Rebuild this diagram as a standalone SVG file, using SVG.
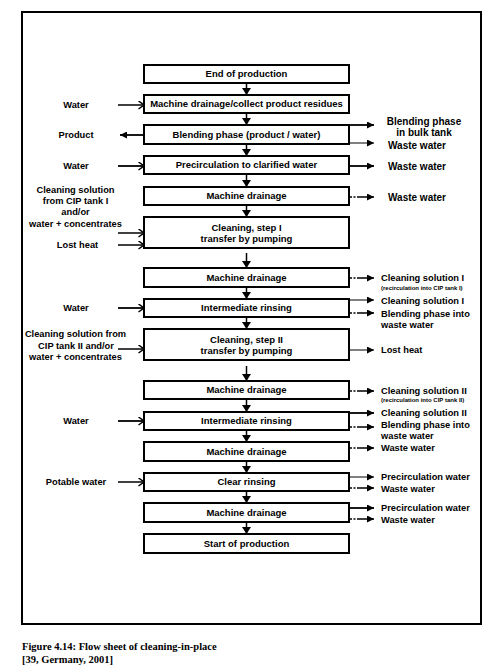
<svg xmlns="http://www.w3.org/2000/svg" width="501" height="670" viewBox="0 0 501 670">
<style>
text{font-family:"Liberation Sans",Arial,sans-serif;font-weight:bold;fill:#000}
.b{font-size:9.5px;text-anchor:middle}
.l{font-size:9.3px;text-anchor:middle}
.r{font-size:9.3px}
.r10{font-size:10px}
.s{font-size:6px}
.cap{font-family:"Liberation Serif","Times New Roman",serif;font-size:10.5px}
.box{fill:#fff;stroke:#000;stroke-width:2}
.dn{stroke:#000;stroke-width:1.5;marker-end:url(#tri)}
.in{stroke:#000;stroke-width:1.5;marker-end:url(#open)}
.out{stroke:#000;stroke-width:1.3;marker-end:url(#ra)}
.thin{stroke-width:1}
.thick{stroke-width:1.8}
.dash{stroke-dasharray:2,1.5,2,1.5,40}
</style>
<defs>
<marker id="tri" viewBox="0 0 7 9" refX="7" refY="4.5" markerWidth="7" markerHeight="9" markerUnits="userSpaceOnUse" orient="auto"><path d="M0,0 L7,4.5 L0,9 Z" fill="#000"/></marker>
<marker id="ra" viewBox="0 0 7 7" refX="7" refY="3.5" markerWidth="7" markerHeight="7" markerUnits="userSpaceOnUse" orient="auto"><path d="M0,0 L7,3.5 L0,7 Z" fill="#000"/></marker>
<marker id="open" viewBox="0 0 7 9" refX="6.5" refY="4.5" markerWidth="7" markerHeight="9" markerUnits="userSpaceOnUse" orient="auto"><path d="M1,0.5 L6.5,4.5 L1,8.5" fill="none" stroke="#000" stroke-width="1.5"/></marker>
</defs>
<rect id="frame" x="22" y="12" width="459" height="612" fill="none" stroke="#000" stroke-width="2"/>

<g id="connectors">
<line class="dn" x1="246.5" y1="84" x2="246.5" y2="95"/>
<line class="dn" x1="246.5" y1="114" x2="246.5" y2="125"/>
<line class="dn" x1="246.5" y1="145" x2="246.5" y2="156"/>
<line class="dn" x1="246.5" y1="175" x2="246.5" y2="187"/>
<line class="dn" x1="246.5" y1="206" x2="246.5" y2="217"/>
<line class="dn" x1="246.5" y1="253" x2="246.5" y2="268"/>
<line class="dn" x1="246.5" y1="288" x2="246.5" y2="299"/>
<line class="dn" x1="246.5" y1="318" x2="246.5" y2="329"/>
<line class="dn" x1="246.5" y1="366" x2="246.5" y2="381"/>
<line class="dn" x1="246.5" y1="400" x2="246.5" y2="412"/>
<line class="dn" x1="246.5" y1="431" x2="246.5" y2="442"/>
<line class="dn" x1="246.5" y1="462" x2="246.5" y2="473"/>
<line class="dn" x1="246.5" y1="492" x2="246.5" y2="503"/>
<line class="dn" x1="246.5" y1="523" x2="246.5" y2="534"/>

<line class="in" x1="118" y1="105" x2="144" y2="105"/>
<line class="out thick" x1="144" y1="135" x2="120" y2="135"/>
<line class="in thick" x1="118" y1="166" x2="144" y2="166"/>
<line class="in" x1="118" y1="233" x2="144" y2="233"/>
<line class="in" x1="118" y1="245" x2="144" y2="245"/>
<line class="in thick" x1="118" y1="308" x2="144" y2="308"/>
<line class="in" x1="118" y1="349" x2="144" y2="349"/>
<line class="in thick" x1="118" y1="421" x2="144" y2="421"/>
<line class="in" x1="118" y1="482" x2="144" y2="482"/>

<line class="out thick" x1="350" y1="125" x2="374" y2="125"/>
<line class="out thin" x1="350" y1="143" x2="374" y2="143"/>
<line class="out thick" x1="350" y1="166" x2="374" y2="166"/>
<line class="out dash" x1="350" y1="197" x2="374" y2="197"/>
<line class="out dash" x1="350" y1="278" x2="374" y2="278"/>
<line class="out thin" x1="350" y1="300" x2="374" y2="300"/>
<line class="out dash" x1="350" y1="313" x2="374" y2="313"/>
<line class="out thin" x1="350" y1="350" x2="374" y2="350"/>
<line class="out dash" x1="350" y1="391" x2="374" y2="391"/>
<line class="out thick" x1="350" y1="413" x2="374" y2="413"/>
<line class="out dash" x1="350" y1="427" x2="374" y2="427"/>
<line class="out dash" x1="350" y1="448" x2="374" y2="448"/>
<line class="out thin" x1="350" y1="477" x2="374" y2="477"/>
<line class="out dash" x1="350" y1="488" x2="374" y2="488"/>
<line class="out thick" x1="350" y1="508" x2="374" y2="508"/>
<line class="out dash" x1="350" y1="519" x2="374" y2="519"/>
</g>

<g id="n1"><rect class="box" x="144" y="65" width="205" height="18"/><text class="b" x="246.5" y="77.3">End of production</text></g>
<g id="n2"><rect class="box" x="144" y="95" width="205" height="18"/><text class="b" x="246.5" y="107.3">Machine drainage/collect product residues</text></g>
<g id="n3"><rect class="box" x="144" y="125" width="205" height="19"/><text class="b" x="246.5" y="137.8">Blending phase (product / water)</text></g>
<g id="n4"><rect class="box" x="144" y="156" width="205" height="18"/><text class="b" x="246.5" y="168.3">Precirculation to clarified water</text></g>
<g id="n5"><rect class="box" x="144" y="187" width="205" height="18"/><text class="b" x="246.5" y="199.3">Machine drainage</text></g>
<g id="n6"><rect class="box" x="144" y="217" width="205" height="31"/><text class="b" x="246.5" y="231.3">Cleaning, step I</text><text class="b" x="246.5" y="242.3">transfer by pumping</text></g>
<g id="n7"><rect class="box" x="144" y="268" width="205" height="19"/><text class="b" x="246.5" y="280.8">Machine drainage</text></g>
<g id="n8"><rect class="box" x="144" y="299" width="205" height="18"/><text class="b" x="246.5" y="311.3">Intermediate rinsing</text></g>
<g id="n9"><rect class="box" x="144" y="329" width="205" height="31"/><text class="b" x="246.5" y="343.3">Cleaning, step II</text><text class="b" x="246.5" y="354.3">transfer by pumping</text></g>
<g id="n10"><rect class="box" x="144" y="381" width="205" height="18"/><text class="b" x="246.5" y="393.3">Machine drainage</text></g>
<g id="n11"><rect class="box" x="144" y="412" width="205" height="18"/><text class="b" x="246.5" y="424.3">Intermediate rinsing</text></g>
<g id="n12"><rect class="box" x="144" y="442" width="205" height="19"/><text class="b" x="246.5" y="454.8">Machine drainage</text></g>
<g id="n13"><rect class="box" x="144" y="473" width="205" height="18"/><text class="b" x="246.5" y="485.3">Clear rinsing</text></g>
<g id="n14"><rect class="box" x="144" y="503" width="205" height="19"/><text class="b" x="246.5" y="515.8">Machine drainage</text></g>
<g id="n15"><rect class="box" x="144" y="534" width="205" height="19"/><text class="b" x="246.5" y="546.8">Start of production</text></g>

<g id="inputs">
<text class="l" x="76" y="108.3">Water</text>
<text class="l" x="76" y="138.3">Product</text>
<text class="l" x="76" y="169.3">Water</text>
<text class="l" x="75.5" y="193.3">Cleaning solution</text>
<text class="l" x="75.5" y="203.8">from CIP tank I</text>
<text class="l" x="75.5" y="215.3">and/or</text>
<text class="l" x="75.5" y="227.3">water + concentrates</text>
<text class="l" x="77.5" y="248.3">Lost heat</text>
<text class="l" x="76" y="311.3">Water</text>
<text class="l" x="75.5" y="337.3">Cleaning solution from</text>
<text class="l" x="76" y="349.3">CIP tank II and/or</text>
<text class="l" x="75.5" y="360.3">water + concentrates</text>
<text class="l" x="76" y="424.3">Water</text>
<text class="l" x="76" y="485.3">Potable water</text>
</g>

<g id="outputs">
<text class="r10" x="424" y="124.5" text-anchor="middle">Blending phase</text>
<text class="r10" x="424" y="135.5" text-anchor="middle">in bulk tank</text>
<text class="r10" x="388" y="148.5">Waste water</text>
<text class="r10" x="388" y="169.5">Waste water</text>
<text class="r10" x="388" y="200.5">Waste water</text>
<text class="r" x="381" y="281.3">Cleaning solution I</text>
<text class="s" x="381" y="290">(recirculation into CIP tank I)</text>
<text class="r" x="381" y="304.3">Cleaning solution I</text>
<text class="r" x="381" y="317.3">Blending phase into</text>
<text class="r" x="381" y="328.3">waste water</text>
<text class="r" x="381" y="353.3">Lost heat</text>
<text class="r" x="381" y="394.3">Cleaning solution II</text>
<text class="s" x="381" y="402">(recirculation into CIP tank II)</text>
<text class="r" x="381" y="416.3">Cleaning solution II</text>
<text class="r" x="381" y="428.3">Blending phase into</text>
<text class="r" x="381" y="439.3">waste water</text>
<text class="r" x="381" y="451.3">Waste water</text>
<text class="r" x="381" y="480.3">Precirculation water</text>
<text class="r" x="381" y="492.3">Waste water</text>
<text class="r" x="381" y="511.3">Precirculation water</text>
<text class="r" x="381" y="523.3">Waste water</text>
</g>

<text class="cap" x="22" y="649.5">Figure 4.14: Flow sheet of cleaning-in-place</text>
<text class="cap" x="22" y="662.5">[39, Germany, 2001]</text>
</svg>
